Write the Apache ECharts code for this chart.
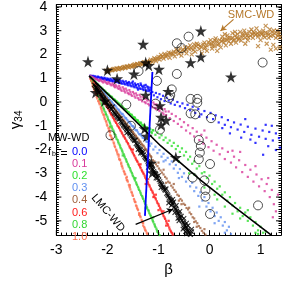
<!DOCTYPE html>
<html><head><meta charset="utf-8">
<script src="https://cdn.jsdelivr.net/npm/echarts/dist/echarts.min.js"></script>
<style>html,body{margin:0;padding:0;background:#fff}#c{width:284px;height:282px}</style>
</head><body><div id="c"></div>
<script>
// ---------------- data ----------------
const xTickLabels = [-3,-2,-1,0,1];
const yTickLabels = [-5,-4,-3,-2,-1,0,1,2,3,4];
const fbLabels = ['0.0','0.1','0.2','0.3','0.4','0.6','0.8','1.0'];

const mw00 = [[-2.30,1.09],[-2.26,1.06],[-2.22,1.03],[-2.19,1.07],[-2.15,1.0],[-2.12,1.04],[-2.09,0.97],[-2.06,1.02],[-2.03,0.94],[-2.0,0.99],[-1.97,0.91],[-1.94,0.98],[-1.91,0.88],[-1.88,0.95],[-1.85,0.86],[-1.82,0.94],[-1.79,0.83],[-1.76,0.92],[-1.73,0.8],[-1.7,0.89],[-1.67,0.77],[-1.64,0.87],[-1.61,0.73],[-1.58,0.84],[-1.55,0.7],[-1.52,0.81],[-1.49,0.66],[-1.46,0.78],[-1.43,0.62],[-1.4,0.75],[-1.37,0.58],[-1.34,0.72],[-1.31,0.54],[-1.28,0.69],[-1.25,0.5],[-1.22,0.65],[-1.19,0.46],[-1.16,0.6],[-1.6,0.8],[-1.45,0.7],[-1.3,0.62],[-1.2,0.55],
[-2.33,1.11],[-2.28,1.1],[-2.24,1.08],[-2.2,1.02],[-2.17,1.05],[-2.13,0.98],[-2.1,1.01],[-2.07,0.95],[-2.04,0.99],[-2.01,0.92],[-1.98,0.96],[-1.95,0.89],[-1.92,0.94],[-1.89,0.86],[-1.86,0.92],[-1.83,0.84],[-1.8,0.9],[-1.77,0.8],[-1.74,0.87],[-1.71,0.77],[-1.68,0.84],[-1.65,0.74],[-1.62,0.8],[-1.59,0.7],[-1.56,0.78],[-1.53,0.66],[-1.5,0.74],[-1.47,0.62],[-1.44,0.72],[-1.41,0.58],[-1.38,0.68],[-1.35,0.55],[-1.32,0.66],[-1.29,0.5],[-1.26,0.6],[-1.23,0.46],[-1.2,0.62],[-1.17,0.5],[-1.15,0.38],[-1.35,0.78],[-1.25,0.72],[-1.5,0.86],[-1.4,0.52],
[-1.12,0.42],[-1.09,0.28],[-1.05,0.38],[-1.02,0.2],[-0.98,0.33],[-0.95,0.12],[-0.91,0.26],[-0.88,0.04],[-0.84,0.18],[-0.8,0.06],[-0.76,-0.06],[-0.72,0.1],[-0.68,-0.12],[-0.63,0.0],[-0.58,-0.18],[-0.53,-0.06],[-0.48,-0.26],[-0.43,-0.12],[-0.38,-0.35],[-0.33,-0.2],[-0.28,-0.46],[-0.22,-0.3],[-0.16,-0.52],[-0.1,-0.38],[-0.05,-0.64],[0.02,-0.46],[0.07,-0.72],[0.12,-0.56],[0.18,-0.86],[0.24,-0.64],[0.3,-0.96],[0.36,-0.76],[0.42,-1.06],[0.48,-0.86],[0.55,-1.16],[0.61,-0.95],[0.68,-1.26],[0.75,-1.04],[0.82,-1.38],[0.9,-1.12],[0.97,-1.46],[1.04,-1.2],[1.1,-1.55],[1.17,-1.26],[1.24,-1.62],[1.3,-1.32],[1.36,-1.52],[0.7,-0.72],[1.1,-0.96],[0.4,-1.32],[0.9,-1.72],[1.15,-1.86],[1.3,-2.02],[1.05,-2.22],[0.62,-1.5],[0.8,-1.58],[1.38,-1.92],[-0.2,-0.62],[0.25,-1.1],[1.22,-1.0]];

const mw01 = [[-2.3,1.06],[-2.26,1.0],[-2.22,0.98],[-2.18,0.92],[-2.14,0.95],[-2.1,0.86],[-2.06,0.9],[-2.02,0.8],[-1.98,0.84],[-1.94,0.74],[-1.9,0.78],[-1.87,0.66],[-1.84,0.72],[-1.8,0.6],[-1.77,0.68],[-1.74,0.52],[-1.7,0.62],[-1.67,0.46],[-1.64,0.56],[-1.6,0.38],[-1.57,0.5],[-1.54,0.32],[-1.5,0.42],[-1.47,0.24],[-1.44,0.36],[-1.4,0.16],[-1.37,0.3],[-1.34,0.1],[-1.3,0.22],[-1.27,0.0],[-1.24,0.14],[-1.2,-0.08],[-1.17,0.06],[-1.14,-0.16],[-1.1,-0.02],[-1.07,-0.25],[-1.04,-0.1],[-1.0,-0.32],
[-2.33,1.1],[-2.28,1.03],[-2.24,0.96],[-2.2,0.94],[-2.16,0.88],[-2.12,0.9],[-2.08,0.82],[-2.04,0.85],[-2.0,0.76],[-1.96,0.79],[-1.92,0.7],[-1.88,0.72],[-1.85,0.62],[-1.82,0.66],[-1.78,0.55],[-1.75,0.6],[-1.72,0.47],[-1.68,0.55],[-1.65,0.4],[-1.62,0.48],[-1.58,0.33],[-1.55,0.42],[-1.52,0.26],[-1.48,0.35],[-1.45,0.18],[-1.42,0.28],[-1.38,0.1],[-1.35,0.22],[-1.32,0.03],[-1.28,0.14],[-1.25,-0.05],[-1.22,0.06],[-1.18,-0.14],[-1.15,-0.02],[-1.12,-0.22],[-1.08,-0.1],[-1.05,-0.3],[-1.02,-0.18],[-0.98,-0.38],[-0.94,-0.28],[-0.9,-0.52],[-0.86,-0.4],
[-0.96,-0.2],[-0.92,-0.45],[-0.88,-0.3],[-0.85,-0.55],[-0.8,-0.4],[-0.78,-0.68],[-0.74,-0.5],[-0.7,-0.8],[-0.66,-0.6],[-0.62,-0.92],[-0.58,-0.72],[-0.55,-1.05],[-0.5,-0.85],[-0.46,-1.2],[-0.42,-0.98],[-0.38,-1.32],[-0.33,-1.1],[-0.3,-1.45],[-0.25,-1.25],[-0.2,-1.6],[-0.16,-1.38],[-0.12,-1.75],[-0.06,-1.5],[-0.02,-1.9],[0.04,-1.65],[0.08,-2.05],[0.14,-1.8],[0.2,-2.2],[0.25,-1.95],[0.3,-2.4],[0.36,-2.1],[0.42,-2.55],[0.48,-2.3],[0.52,-2.75],[0.58,-2.45],[0.64,-2.95],[0.7,-2.65],[0.75,-3.15],[0.8,-2.85],[0.86,-3.35],[0.92,-3.05],[0.97,-3.55],[1.02,-3.25],[1.08,-3.75],[1.12,-3.45],[1.18,-4.0],[1.22,-3.7],[1.26,-4.3],[1.3,-4.6],[1.24,-4.85],[1.34,-3.9],[0.6,-2.1],[0.9,-2.7],[-0.1,-1.2],[0.45,-2.05],[1.15,-3.2]];

const mw02 = [[-2.3,0.98],[-2.27,0.9],[-2.24,0.85],[-2.21,0.76],[-2.18,0.72],[-2.15,0.64],[-2.12,0.6],[-2.09,0.52],[-2.06,0.48],[-2.03,0.4],[-2.0,0.36],[-1.97,0.3],[-1.94,0.24],[-1.91,0.2],[-1.88,0.12],[-1.85,0.08],[-1.82,0.02],[-1.79,-0.06],[-1.76,-0.1],[-1.73,-0.18],[-1.7,-0.22],[-1.67,-0.3],[-1.64,-0.33],[-1.61,-0.42],[-1.58,-0.45],[-1.55,-0.54],[-1.52,-0.56],[-1.49,-0.66],[-1.46,-0.68],[-1.43,-0.78],[-1.4,-0.8],[-1.37,-0.9],[-1.34,-0.9],[-1.31,-1.02],[-1.28,-1.0],[-1.25,-1.12],[-1.22,-1.1],[-1.19,-1.22],[-1.16,-1.15],[-1.13,-1.3],
[-2.33,1.05],[-2.28,0.95],[-2.25,0.87],[-2.22,0.81],[-2.19,0.74],[-2.16,0.68],[-2.13,0.61],[-2.1,0.56],[-2.07,0.49],[-2.04,0.44],[-2.01,0.37],[-1.98,0.32],[-1.95,0.26],[-1.92,0.22],[-1.89,0.14],[-1.86,0.1],[-1.83,0.04],[-1.8,-0.02],[-1.77,-0.07],[-1.74,-0.14],[-1.71,-0.19],[-1.68,-0.26],[-1.65,-0.3],[-1.62,-0.38],[-1.59,-0.42],[-1.56,-0.5],[-1.53,-0.53],[-1.5,-0.62],[-1.47,-0.64],[-1.44,-0.74],[-1.41,-0.76],[-1.38,-0.86],[-1.35,-0.86],[-1.32,-0.97],[-1.29,-0.96],[-1.26,-1.08],[-1.23,-1.06],[-1.2,-1.18],[-1.17,-1.12],[-1.14,-1.26],[-1.11,-1.18],
[-1.1,-1.2],[-1.06,-1.38],[-1.02,-1.28],[-0.98,-1.5],[-0.94,-1.4],[-0.9,-1.6],[-0.86,-1.5],[-0.82,-1.72],[-0.78,-1.62],[-0.74,-1.85],[-0.7,-1.72],[-0.66,-1.98],[-0.62,-1.85],[-0.58,-2.1],[-0.54,-1.95],[-0.5,-2.25],[-0.46,-2.1],[-0.42,-2.42],[-0.38,-2.3],[-0.34,-2.6],[-0.3,-2.5],[-0.25,-2.8],[-0.2,-2.7],[-0.15,-3.0],[-0.1,-2.95],[-0.05,-3.2],[0.0,-3.1],[0.05,-3.45],[0.1,-3.35],[0.15,-3.65],[0.2,-3.55],[0.25,-3.9],[0.3,-3.8],[0.35,-4.15],[0.4,-4.0],[0.45,-4.35],[0.5,-4.25],[0.55,-4.6],[0.6,-4.45],[0.65,-4.8],[0.7,-4.65],[0.75,-5.0],[0.8,-4.85],[0.85,-5.2],[0.9,-5.05],[0.95,-5.4],[1.0,-5.25],[1.05,-5.5],[1.1,-5.45],[-0.3,-3.05],[0.1,-3.9],[0.45,-4.7],[0.9,-5.5],[-0.6,-2.5],[0.3,-4.4],[0.75,-4.55],[-0.1,-3.6],[0.15,-4.1],[0.6,-4.9],[0.95,-5.55],[-0.4,-3.0]];

const mw03 = [[-2.3,0.96],[-2.26,0.88],[-2.22,0.76],[-2.19,0.7],[-2.15,0.58],[-2.12,0.52],[-2.08,0.4],[-2.05,0.34],[-2.01,0.22],[-1.98,0.16],[-1.94,0.05],[-1.91,-0.02],[-1.87,-0.12],[-1.84,-0.18],[-1.8,-0.3],[-1.77,-0.36],[-1.73,-0.48],[-1.7,-0.52],[-1.66,-0.65],[-1.63,-0.7],[-1.59,-0.82],[-1.56,-0.88],[-1.52,-1.0],[-1.49,-1.04],[-1.45,-1.18],[-1.42,-1.2],[-1.38,-1.35],[-1.35,-1.36],[-1.31,-1.5],[-1.28,-1.52],[-1.24,-1.66],[-1.21,-1.68],
[-2.33,1.04],[-2.28,0.92],[-2.24,0.82],[-2.2,0.73],[-2.17,0.64],[-2.14,0.55],[-2.1,0.46],[-2.06,0.37],[-2.03,0.28],[-2.0,0.19],[-1.96,0.1],[-1.92,0.02],[-1.89,-0.07],[-1.85,-0.15],[-1.82,-0.24],[-1.78,-0.33],[-1.75,-0.42],[-1.71,-0.5],[-1.68,-0.58],[-1.64,-0.68],[-1.61,-0.76],[-1.57,-0.85],[-1.54,-0.94],[-1.5,-1.02],[-1.47,-1.1],[-1.43,-1.19],[-1.4,-1.28],[-1.36,-1.36],[-1.33,-1.43],[-1.29,-1.51],[-1.26,-1.59],[-1.22,-1.67],[-1.19,-1.76],
[-1.17,-1.85],[-1.14,-1.75],[-1.1,-2.0],[-1.06,-1.88],[-1.02,-2.15],[-0.98,-2.02],[-0.94,-2.3],[-0.9,-2.18],[-0.86,-2.45],[-0.82,-2.35],[-0.78,-2.62],[-0.74,-2.5],[-0.7,-2.8],[-0.66,-2.65],[-0.62,-2.98],[-0.58,-2.82],[-0.54,-3.15],[-0.5,-3.0],[-0.46,-3.35],[-0.42,-3.2],[-0.38,-3.55],[-0.34,-3.4],[-0.3,-3.75],[-0.26,-3.6],[-0.22,-3.95],[-0.18,-3.8],[-0.14,-4.15],[-0.1,-4.0],[-0.06,-4.4],[-0.02,-4.25],[0.02,-4.6],[0.06,-4.45],[0.1,-4.8],[0.14,-4.65],[0.18,-5.0],[0.22,-4.85],[0.26,-5.2],[0.3,-5.05],[0.34,-5.4],[0.38,-5.25],[0.42,-5.55],[-0.6,-3.2],[-0.2,-4.4],[0.1,-5.1],[-0.9,-2.5],[0.3,-5.5]];

const mw04 = [[-2.31,0.95],[-2.28,0.88],[-2.25,0.78],[-2.22,0.72],[-2.19,0.62],[-2.16,0.55],[-2.13,0.46],[-2.1,0.38],[-2.07,0.3],[-2.04,0.21],[-2.01,0.14],[-1.98,0.04],[-1.95,-0.03],[-1.92,-0.13],[-1.89,-0.2],[-1.86,-0.3],[-1.83,-0.37],[-1.8,-0.46],[-1.77,-0.54],[-1.74,-0.62],[-1.71,-0.7],[-1.68,-0.78],[-1.65,-0.87],[-1.62,-0.95],[-1.59,-1.04],[-1.56,-1.1],[-1.53,-1.2],[-1.5,-1.27],[-1.47,-1.37],[-1.44,-1.44],[-1.41,-1.53],[-1.38,-1.62],[-1.35,-1.7],[-1.32,-1.8],[-1.29,-1.86],
[-2.33,1.03],[-2.29,0.92],[-2.26,0.83],[-2.23,0.75],[-2.2,0.66],[-2.17,0.58],[-2.14,0.5],[-2.11,0.42],[-2.08,0.34],[-2.05,0.25],[-2.02,0.17],[-1.99,0.08],[-1.96,0.0],[-1.93,-0.08],[-1.9,-0.17],[-1.87,-0.25],[-1.84,-0.34],[-1.81,-0.42],[-1.78,-0.5],[-1.75,-0.58],[-1.72,-0.66],[-1.69,-0.75],[-1.66,-0.83],[-1.63,-0.92],[-1.6,-1.0],[-1.57,-1.08],[-1.54,-1.16],[-1.51,-1.24],[-1.48,-1.33],[-1.45,-1.41],[-1.42,-1.5],[-1.39,-1.58],[-1.36,-1.66],[-1.33,-1.76],[-1.3,-1.83],[-1.27,-1.92],[-1.24,-2.0],[-1.21,-2.1],[-1.18,-2.2],[-1.15,-2.28],
[-1.26,-1.98],[-1.23,-2.05],[-1.2,-2.15],[-1.17,-2.25],[-1.14,-2.32],[-1.11,-2.45],[-1.08,-2.5],[-1.05,-2.62],[-1.02,-2.7],[-0.99,-2.8],[-0.96,-2.88],[-0.93,-2.97],[-0.9,-3.05],[-0.87,-3.15],[-0.84,-3.22],[-0.81,-3.35],[-0.78,-3.4],[-0.75,-3.52],[-0.72,-3.6],[-0.69,-3.7],[-0.66,-3.78],[-0.63,-3.9],[-0.6,-3.95],[-0.57,-4.08],[-0.54,-4.15],[-0.51,-4.28],[-0.48,-4.33],[-0.45,-4.46],[-0.42,-4.52],[-0.39,-4.65],[-0.36,-4.72],[-0.33,-4.85],[-0.3,-4.9],[-0.27,-5.02],[-0.24,-5.1],[-0.21,-5.22],[-0.18,-5.3],[-0.15,-5.42],[-0.12,-5.5],[-0.08,-5.58],
[-1.0,-2.55],[-0.85,-3.4],[-0.7,-3.45],[-0.55,-4.3],[-0.4,-4.45],[-0.25,-5.25],[-0.9,-2.85],[-0.6,-4.15],[-0.3,-5.05],[-0.1,-5.35]];

const mw06 = [[-2.31,0.92],[-2.28,0.8],[-2.25,0.7],[-2.22,0.58],[-2.19,0.48],[-2.16,0.36],[-2.13,0.25],[-2.1,0.14],[-2.07,0.02],[-2.04,-0.08],[-2.01,-0.2],[-1.98,-0.3],[-1.95,-0.44],[-1.92,-0.55],[-1.89,-0.66],[-1.86,-0.78],[-1.83,-0.88],[-1.8,-1.0],[-1.77,-1.1],[-1.74,-1.22],[-1.71,-1.33],[-1.68,-1.45],[-1.65,-1.55],[-1.62,-1.67],[-1.59,-1.78],[-1.56,-1.92],[-1.53,-2.03],[-1.5,-2.16],[-1.47,-2.28],[-1.44,-2.42],[-1.41,-2.52],[-1.38,-2.66],[-1.35,-2.78],[-1.32,-2.92],[-1.29,-3.03],[-1.26,-3.18],[-1.23,-3.3],[-1.2,-3.44],[-1.17,-3.56],[-1.14,-3.7],[-1.11,-3.82],[-1.08,-3.98],[-1.05,-4.1],[-1.02,-4.25],[-0.99,-4.37],[-0.96,-4.52],[-0.93,-4.65],[-0.9,-4.8],[-0.87,-4.92],[-0.84,-5.08],[-0.81,-5.2],[-0.78,-5.36],[-0.75,-5.48],[-0.72,-5.58],
[-2.33,0.98],[-2.29,0.86],[-2.26,0.75],[-2.23,0.64],[-2.2,0.53],[-2.17,0.42],[-2.14,0.3],[-2.11,0.2],[-2.08,0.08],[-2.05,-0.03],[-2.02,-0.14],[-1.99,-0.25],[-1.96,-0.37],[-1.93,-0.5],[-1.9,-0.6],[-1.87,-0.72],[-1.84,-0.83],[-1.81,-0.94],[-1.78,-1.05],[-1.75,-1.16],[-1.72,-1.28],[-1.69,-1.4],[-1.66,-1.5],[-1.63,-1.62],[-1.6,-1.73],[-1.57,-1.86],[-1.54,-1.97],[-1.51,-2.1],[-1.48,-2.22],[-1.45,-2.35],[-1.42,-2.47],[-1.39,-2.6],[-1.36,-2.72],[-1.33,-2.86],[-1.3,-2.97],[-1.27,-3.1],[-1.24,-3.24],[-1.21,-3.37],[-1.18,-3.5],[-1.15,-3.64],[-1.12,-3.76],[-1.09,-3.9],[-1.06,-4.04],[-1.03,-4.18],[-1.0,-4.3],[-0.97,-4.45],[-0.94,-4.58],[-0.91,-4.72],[-0.88,-4.86],[-0.85,-5.0],[-0.82,-5.14],[-0.79,-5.28],[-0.76,-5.42],[-0.73,-5.52],
[-1.5,-2.0],[-1.35,-2.62],[-1.2,-3.25],[-1.05,-3.9],[-0.9,-4.6],[-0.8,-5.0],[-1.25,-3.45],[-1.0,-4.55],[-0.85,-5.2],[-1.1,-4.0]];

const mw08 = [[-2.32,0.95],[-2.3,0.82],[-2.28,0.74],[-2.26,0.6],[-2.24,0.52],[-2.22,0.44],[-2.2,0.32],[-2.18,0.26],[-2.16,0.12],[-2.14,0.06],[-2.12,-0.05],[-2.1,-0.16],[-2.08,-0.24],[-2.06,-0.36],[-2.04,-0.43],[-2.02,-0.55],[-2.0,-0.62],[-1.98,-0.76],[-1.96,-0.82],[-1.94,-0.95],[-1.92,-1.02],[-1.9,-1.15],[-1.88,-1.21],[-1.86,-1.35],[-1.84,-1.4],[-1.82,-1.55],[-1.8,-1.6],[-1.78,-1.74],[-1.76,-1.8],[-1.74,-1.94],[-1.72,-2.0],[-1.7,-2.13],[-1.68,-2.2],[-1.66,-2.33],[-1.64,-2.4],[-1.62,-2.52],[-1.6,-2.6],[-1.58,-2.72],[-1.56,-2.78],[-1.54,-2.92],[-1.52,-2.98],[-1.5,-3.12],[-1.48,-3.18],[-1.46,-3.3],[-1.44,-3.38],[-1.42,-3.5],[-1.4,-3.57],[-1.38,-3.7],[-1.36,-3.76],[-1.34,-3.9],[-1.32,-3.96],[-1.3,-4.08],[-1.28,-4.16],[-1.26,-4.28],[-1.24,-4.35],[-1.22,-4.48],[-1.2,-4.55],[-1.18,-4.68],[-1.16,-4.74],[-1.14,-4.88],[-1.12,-4.94],[-1.1,-5.06],[-1.08,-5.14],[-1.06,-5.26],[-1.04,-5.33],[-1.02,-5.46],[-1.0,-5.52],[-0.98,-5.6],[-1.7,-2.25],[-1.45,-3.2],[-1.25,-4.45],[-1.1,-4.85],[-1.95,-1.05],
[-2.31,0.88],[-2.27,0.68],[-2.23,0.48],[-2.19,0.28],[-2.15,0.08],[-2.11,-0.11],[-2.07,-0.3],[-2.03,-0.5],[-1.99,-0.7],[-1.95,-0.88],[-1.91,-1.08],[-1.87,-1.28],[-1.83,-1.48],[-1.79,-1.67],[-1.75,-1.87],[-1.71,-2.06],[-1.67,-2.26],[-1.63,-2.46],[-1.59,-2.66],[-1.55,-2.85],[-1.51,-3.05],[-1.47,-3.24],[-1.43,-3.44],[-1.39,-3.64],[-1.35,-3.83],[-1.31,-4.02],[-1.27,-4.22],[-1.23,-4.42],[-1.19,-4.6],[-1.15,-4.8],[-1.11,-5.0],[-1.07,-5.2],[-1.03,-5.4]];

const mw10 = [[-2.30,0.8],[-2.28,0.62],[-2.25,0.45],[-2.22,0.33],[-2.2,0.15],[-2.17,0.02],[-2.15,-0.1],[-2.12,-0.28],[-2.1,-0.44],[-2.07,-0.55],[-2.05,-0.72],[-2.02,-0.86],[-2.0,-1.0],[-1.97,-1.2],[-1.95,-1.28],[-1.92,-1.5],[-1.9,-1.6],[-1.87,-1.75],[-1.85,-1.9],[-1.82,-2.05],[-1.8,-2.2],[-1.77,-2.4],[-1.75,-2.45],[-1.72,-2.68],[-1.7,-2.8],[-1.67,-2.95],[-1.65,-3.05],[-1.62,-3.28],[-1.6,-3.35],[-1.57,-3.55],[-1.55,-3.68],[-1.52,-3.82],[-1.5,-3.95],[-1.47,-4.15],[-1.45,-4.22],[-1.42,-4.45],[-1.4,-4.55],[-1.37,-4.7],[-1.35,-4.85],[-1.32,-5.02],[-1.3,-5.1],[-1.27,-5.32],[-1.25,-5.42],[-1.22,-5.55],[-1.96,-1.12],[-1.78,-2.22],[-1.62,-3.15],[-1.44,-4.35],[-1.3,-5.2],[-1.95,-1.4],[-1.73,-2.55],[-1.56,-3.5],[-1.38,-4.75],
[-2.32,0.9],[-2.29,0.7],[-2.26,0.53],[-2.23,0.36],[-2.21,0.22],[-2.18,0.05],[-2.16,-0.05],[-2.13,-0.22],[-2.11,-0.36],[-2.08,-0.52],[-2.06,-0.64],[-2.03,-0.8],[-2.01,-0.95],[-1.98,-1.1],[-1.96,-1.24],[-1.93,-1.42],[-1.91,-1.54],[-1.88,-1.7],[-1.86,-1.84],[-1.83,-2.0],[-1.81,-2.12],[-1.78,-2.3],[-1.76,-2.42],[-1.73,-2.6],[-1.71,-2.72],[-1.68,-2.9],[-1.66,-3.02],[-1.63,-3.2],[-1.61,-3.3],[-1.58,-3.48],[-1.56,-3.6],[-1.53,-3.78],[-1.51,-3.9],[-1.48,-4.08],[-1.46,-4.2],[-1.43,-4.38],[-1.41,-4.5],[-1.38,-4.68],[-1.36,-4.8],[-1.33,-4.96],[-1.31,-5.08],[-1.28,-5.26],[-1.26,-5.38],[-1.23,-5.5]];

const smcWD = [[-2.02,1.32],[-1.98,1.3],[-1.95,1.36],[-1.92,1.33],[-1.88,1.38],[-1.85,1.35],[-1.82,1.41],[-1.78,1.37],[-1.75,1.44],[-1.72,1.4],[-1.68,1.47],[-1.65,1.43],[-1.62,1.5],[-1.58,1.46],[-1.55,1.53],[-1.52,1.49],[-1.48,1.56],[-1.45,1.52],[-1.42,1.6],[-1.38,1.55],[-1.35,1.63],[-1.32,1.58],[-1.28,1.68],[-1.25,1.6],[-1.22,1.72],[-1.18,1.64],[-1.15,1.78],[-1.12,1.68],
[-1.08,1.85],[-1.05,1.72],[-1.0,1.9],[-0.98,1.78],[-0.95,1.98],[-0.9,1.82],[-0.88,2.02],[-0.85,1.9],[-0.8,2.08],[-0.78,1.86],[-0.75,2.0],[-0.7,2.12],[-0.68,1.92],[-0.65,2.2],[-0.6,2.02],[-0.58,2.25],[-0.55,1.95],[-0.5,2.15],[-0.48,2.3],[-0.45,2.05],[-0.4,2.22],[-0.38,2.38],[-0.35,2.0],[-0.3,2.3],[-0.28,2.12],[-0.25,2.45],[-0.2,2.22],[-0.18,2.36],[-0.15,2.05],[-0.1,2.5],[-0.08,2.3],[-0.05,2.15],[0.0,2.42],[0.02,2.6],[0.05,2.25],[0.08,2.5],[0.1,2.35],[0.12,2.68],[0.15,2.15],[0.18,2.45],[0.2,2.6],[0.22,2.3],[0.25,2.75],[0.28,2.5],[0.3,2.62],[0.32,2.38],[0.35,2.8],[0.38,2.55],[0.4,2.7],[0.42,2.45],[0.45,2.9],[0.48,2.62],[0.5,2.78],[0.52,2.5],[0.55,2.85],[0.58,2.68],[0.6,2.95],[0.62,2.58],[0.65,2.8],[0.68,3.0],[0.7,2.7],[0.72,2.88],[0.75,2.6],[0.78,2.95],[0.8,2.78],[0.82,3.05],[0.85,2.7],[0.88,2.9],[0.9,2.82],[0.92,3.1],[0.95,2.75],[0.98,2.95],[1.0,2.6],[1.02,2.85],[1.05,3.0],[1.08,2.72],[1.1,2.92],[1.12,2.45],[1.15,2.82],[1.18,3.05],[1.2,2.78],[1.22,2.95],[1.25,2.4],[1.28,2.88],[1.3,2.7],[1.32,3.0],[1.35,2.85],[1.38,2.72],[1.38,2.3],[1.3,2.25],[1.2,2.2],[0.95,2.35],[0.7,2.45],[1.1,3.2],[-1.48,1.5],
[-2.0,1.28],[-1.96,1.33],[-1.9,1.35],[-1.86,1.39],[-1.8,1.4],[-1.76,1.42],[-1.7,1.44],[-1.66,1.48],[-1.6,1.49],[-1.56,1.51],[-1.5,1.53],[-1.46,1.58],[-1.4,1.58],[-1.36,1.6],[-1.3,1.64],[-1.26,1.66],[-1.2,1.68],[-1.16,1.72],[-1.1,1.76],[-1.06,1.8],[-1.02,1.82],[-0.96,1.88],[-0.92,1.92],[-0.86,1.96],[-0.82,1.98],[-0.76,2.06],[-0.72,2.02],[-0.66,2.08],[-0.62,2.14],[-0.56,2.1],[-0.52,2.2],[-0.46,2.18],[-0.42,2.3],[-0.36,2.26],[-0.32,2.18],[-0.26,2.34],[-0.22,2.4],[-0.16,2.3],[-0.12,2.42],[-0.06,2.38],[-0.02,2.52],[0.04,2.46],[0.06,2.35],[0.14,2.55],[0.16,2.4],[0.24,2.55],[0.26,2.62],[0.34,2.6],[0.36,2.7],[0.44,2.7],[0.46,2.58],[0.54,2.7],[0.56,2.62],[0.64,2.72],[0.66,2.88],[0.74,2.8],[0.76,2.72],[0.84,2.85],[0.86,2.95],[0.94,2.9],[0.96,2.82],[1.04,2.9],[1.06,2.78],[1.14,2.9],[1.16,2.7],[1.24,2.8],[1.26,3.0],[1.34,2.78],[1.36,2.95],[0.5,2.95],[0.3,2.85],[0.1,2.6],[-0.1,2.25],[-0.3,2.42]];

const lmcWD = [[-2.26,0.72],[-2.23,0.62],[-2.2,0.55],[-2.18,0.45],[-2.15,0.38],[-2.12,0.28],[-2.1,0.2],[-2.07,0.12],[-2.04,0.02],[-2.01,-0.05],[-1.98,-0.15],[-1.95,-0.2],[-1.92,-0.32],[-1.89,-0.38],[-1.86,-0.48],[-1.83,-0.55],[-1.8,-0.65],[-1.77,-0.72],[-1.74,-0.82],[-1.71,-0.9],[-1.68,-1.0],[-1.65,-1.08],[-1.62,-1.18],[-1.59,-1.25],[-1.56,-1.35],[-1.53,-1.45],[-1.5,-1.55],[-1.47,-1.62],[-1.44,-1.75],[-1.41,-1.82],[-1.38,-1.95],[-1.35,-2.02],[-1.32,-2.15],[-1.29,-2.22],[-1.26,-2.35],[-1.23,-2.42],[-1.2,-2.55],[-1.17,-2.65],[-1.14,-2.75],[-1.11,-2.85],[-1.08,-2.98],[-1.05,-3.05],[-1.02,-3.2],[-0.99,-3.28],[-0.96,-3.42],[-0.93,-3.5],[-0.9,-3.62],[-0.87,-3.72],[-0.84,-3.85],[-0.81,-3.95],[-0.78,-4.08],[-0.75,-4.18],[-0.72,-4.3],[-0.69,-4.42],[-0.66,-4.52],[-0.63,-4.65],[-0.6,-4.75],[-0.57,-4.88],[-0.54,-4.98],[-0.51,-5.1],[-0.48,-5.2],[-0.45,-5.32],[-0.42,-5.42],[-0.39,-5.55],
[-1.9,-0.2],[-1.75,-0.7],[-1.6,-1.1],[-1.45,-1.6],[-1.3,-2.1],[-1.15,-2.6],[-1.0,-3.1],[-0.85,-3.65],[-0.7,-4.2],[-0.55,-4.8],[-0.45,-5.1],[-0.35,-5.45],[-1.35,-2.15],[-1.05,-3.2],[-0.75,-4.35],[-0.5,-5.3],
[-1.62,-1.3],[-1.4,-2.0],[-1.2,-2.75],[-0.95,-3.6],[-0.8,-4.25],[-0.62,-4.9],[-0.47,-5.45],
[-2.24,0.68],[-2.21,0.6],[-2.19,0.5],[-2.16,0.42],[-2.13,0.33],[-2.11,0.24],[-2.08,0.16],[-2.05,0.07],[-2.02,-0.02],[-1.99,-0.1],[-1.96,-0.18],[-1.93,-0.27],[-1.87,-0.44],[-1.84,-0.51],[-1.81,-0.6],[-1.78,-0.68],[-1.72,-0.86],[-1.69,-0.95],[-1.66,-1.04],[-1.63,-1.12],[-1.57,-1.3],[-1.54,-1.4],[-1.51,-1.5],[-1.48,-1.58],[-1.42,-1.78],[-1.39,-1.88],[-1.36,-1.98],[-1.33,-2.08],[-1.27,-2.3],[-1.24,-2.38],[-1.21,-2.5],[-1.18,-2.6],[-1.12,-2.8],[-1.09,-2.92],[-1.06,-3.02],[-1.03,-3.12],[-0.97,-3.35],[-0.94,-3.46],[-0.91,-3.57],[-0.88,-3.68],[-0.82,-3.9],[-0.79,-4.02],[-0.76,-4.12],[-0.73,-4.25],[-0.67,-4.48],[-0.64,-4.58],[-0.61,-4.7],[-0.58,-4.82],[-0.52,-5.04],[-0.49,-5.15],[-0.46,-5.26],[-0.43,-5.38],[-0.4,-5.5],[-0.37,-5.58],
[-0.72,-4.1],[-0.65,-4.35],[-0.58,-4.6],[-0.5,-4.9],[-0.42,-5.2],[-0.35,-5.35],[-0.68,-4.65],[-0.6,-5.0],[-0.52,-5.35],[-0.45,-5.55]];

const starPts = [[-2.38,1.70],[-2.0,1.34],[-1.81,0.98],[-1.30,2.43],[-1.48,1.18],[-1.25,1.66],[-1.19,1.54],[-1.25,0.29],[-0.17,2.99],[-0.17,1.90],[-0.37,1.66],[-0.99,1.38],[0.42,1.06],[-0.81,0.45],[-0.97,-0.15],[-0.95,-0.64],[-0.85,-0.76],[-0.95,-0.96],[-1.27,-1.12],[-1.23,-1.44],[-0.66,-2.33],[-1.12,-2.97],[-2.23,0.4],[-2.05,0.05],[-1.14,-2.57]];

const circlePts = [[-0.41,2.75],[-0.64,2.47],[-0.55,2.27],[-0.64,1.18],[-1.03,0.89],[1.04,1.66],[-0.74,0.53],[-0.77,0.29],[-0.79,0.17],[-0.37,0.13],[-0.24,0.13],[-0.24,-0.03],[-1.06,-0.07],[-0.37,-0.48],[-0.28,-0.52],[0.03,-0.68],[-0.97,-1.16],[-0.21,-1.6],[-0.17,-1.85],[-0.19,-2.13],[-0.21,-2.41],[0.01,-2.61],[-0.33,-3.18],[-0.10,-3.30],[-0.08,-3.70],[-0.08,-3.98],[0.01,-4.71],[0.95,-4.35],[-1.39,1.30],[-1.63,-0.11],[-1.54,-1.0],[-1.94,-1.40]];

const modelCurve = [[-2.36,1.10],[-1.66,-0.36],[-0.954,-1.85],[-0.169,-3.30],[0.5,-4.43],[1.21,-5.6]];
const blueLine = [[-1.119,1.26],[-1.265,-4.79]];
const smcArrow = [[0.47,3.475],[0.215,2.99]];
const lmcArrow = [[-1.447,-5.15],[-0.717,-4.51]];

// ---------------- layout / style ----------------
const X_MIN=-3, X_MAX=1.4, Y_MIN=-5.6, Y_MAX=4.1;
const FONT='Liberation Sans, Arial, sans-serif';
const fbColors=['#0000ff','#d8389a','#2ee02e','#5f8ff0','#a0603c','#ff1a1a','#33d633','#ff7050'];
const mwSets=[mw00,mw01,mw02,mw03,mw04,mw06,mw08,mw10];
const SMC_COLOR='#b5782a';
const STAR='path://M50,0L61,35L98,35L68,57L79,91L50,70L21,91L32,57L2,35L39,35Z';
const XMARK='path://M0,0L10,10M10,0L0,10';

const intOnly = v => Math.abs(v-Math.round(v))<1e-6 ? String(Math.round(v)) : '';
function axis(pos, showLabel, extra){
  return Object.assign({type:'value', position:pos,
    axisLine:{show:true,onZero:false,lineStyle:{color:'#000',width:1}},
    axisTick:{show:true,inside:true,length:2.5,lineStyle:{color:'#000',width:1}},
    splitLine:{show:false},
    axisLabel:{show:showLabel,formatter:intOnly,color:'#000',fontSize:14,fontFamily:FONT}
  }, extra);
}
function majorTicks(vals, isX){
  return {type:'custom', silent:true, z:20, clip:false,
    data: vals.map(v => isX ? [v, Y_MIN] : [X_MIN, v]),
    renderItem:(p, api)=>{
      const v = api.value(isX?0:1);
      const a = isX ? api.coord([v,Y_MIN]) : api.coord([X_MIN,v]);
      const b = isX ? api.coord([v,Y_MAX]) : api.coord([X_MAX,v]);
      const L=5, st={stroke:'#000',lineWidth:1};
      const ch = isX ? [
        {type:'line',shape:{x1:a[0],y1:a[1],x2:a[0],y2:a[1]-L},style:st},
        {type:'line',shape:{x1:b[0],y1:b[1],x2:b[0],y2:b[1]+L},style:st}]
      : [
        {type:'line',shape:{x1:a[0],y1:a[1],x2:a[0]+L,y2:a[1]},style:st},
        {type:'line',shape:{x1:b[0],y1:b[1],x2:b[0]-L,y2:b[1]},style:st}];
      return {type:'group',children:ch};
    }};
}

const series=[];
mwSets.forEach((d,i)=>series.push({type:'scatter',data:d,symbol:'rect',symbolSize:2.2,
  itemStyle:{color:fbColors[i]},silent:true}));
series.push({type:'scatter',data:smcWD,symbol:XMARK,symbolSize:4,
  itemStyle:{color:'transparent',borderColor:SMC_COLOR,borderWidth:1.1},silent:true,
  markLine:{silent:true,animation:false,symbol:['none','arrow'],symbolSize:[5,6],
    lineStyle:{color:SMC_COLOR,width:1.2,type:'solid'},label:{show:false},
    data:[[{coord:smcArrow[0]},{coord:smcArrow[1]}]]}});
series.push({type:'scatter',data:lmcWD,symbol:XMARK,symbolSize:4.5,
  itemStyle:{color:'transparent',borderColor:'#000',borderWidth:1.1},silent:true,
  markLine:{silent:true,animation:false,symbol:['none','arrow'],symbolSize:[5,6],
    lineStyle:{color:'#000',width:1.2,type:'solid'},label:{show:false},
    data:[[{coord:lmcArrow[0]},{coord:lmcArrow[1]}]]}});
series.push({type:'line',data:modelCurve,symbol:'none',lineStyle:{color:'#000',width:1.6},silent:true});
series.push({type:'line',data:blueLine,symbol:'none',lineStyle:{color:'#0000ff',width:1.8},silent:true});
series.push({type:'scatter',data:starPts,symbol:STAR,symbolSize:12,itemStyle:{color:'#000'},silent:true});
series.push({type:'scatter',data:circlePts,symbol:'circle',symbolSize:9,
  itemStyle:{color:'rgba(0,0,0,0)',borderColor:'#222',borderWidth:1},silent:true});
series.push(majorTicks(xTickLabels,true));
series.push(majorTicks(yTickLabels,false));

const graphic=[
  {type:'text',left:48,top:132.5,z:100,style:{text:'MW-WD',fill:'#000',font:'11px '+FONT}},
  {type:'text',left:48,top:146,z:100,style:{text:'f',fill:'#000',font:'11px '+FONT}},
  {type:'text',left:52,top:151,z:100,style:{text:'b',fill:'#000',font:'7px '+FONT}},
  {type:'rect',z:100,shape:{x:61,y:151,width:6,height:1},style:{fill:'#000'}},
  {type:'rect',z:100,shape:{x:61,y:154,width:6,height:1},style:{fill:'#000'}},
  {type:'text',x:251,y:15,z:100,style:{text:'SMC-WD',fill:SMC_COLOR,font:'11px '+FONT,align:'center',verticalAlign:'middle'}},
  {type:'text',x:108,y:213,z:100,rotation:-0.87,style:{text:'LMC-WD',fill:'#000',font:'11px '+FONT,align:'center',verticalAlign:'middle'}}
];
fbLabels.forEach((t,i)=>graphic.push({type:'text',left:72,top:146+i*12.2,z:100,
  style:{text:t,fill:fbColors[i],font:'11px '+FONT}}));

const chart=echarts.init(document.getElementById('c'),null,{renderer:'canvas'});
chart.setOption({
  animation:false,
  textStyle:{fontFamily:FONT},
  grid:{left:40,right:3,top:2.5,bottom:39,containLabel:false},
  xAxis:[
    axis('bottom',true,{min:X_MIN,max:X_MAX,interval:0.1,name:'β',nameLocation:'middle',nameGap:25,
      nameTextStyle:{fontSize:15,color:'#000',fontFamily:FONT},axisLabel:{show:true,formatter:intOnly,color:'#000',fontSize:14,fontFamily:FONT,margin:8}}),
    axis('top',false,{min:X_MIN,max:X_MAX,interval:0.1})
  ],
  yAxis:[
    axis('left',true,{min:Y_MIN,max:Y_MAX,interval:0.1,name:'{a|γ}{b|34}',nameLocation:'middle',nameGap:28,nameRotate:90,
      nameTextStyle:{color:'#000',rich:{a:{fontSize:15,fontFamily:FONT,color:'#000'},b:{fontSize:10,fontFamily:FONT,color:'#000',padding:[7,0,0,0]}}},
      axisLabel:{show:true,formatter:intOnly,color:'#000',fontSize:14,fontFamily:FONT,margin:9}}),
    axis('right',false,{min:Y_MIN,max:Y_MAX,interval:0.1})
  ],
  series:series,
  graphic:graphic
});
</script></body></html>
